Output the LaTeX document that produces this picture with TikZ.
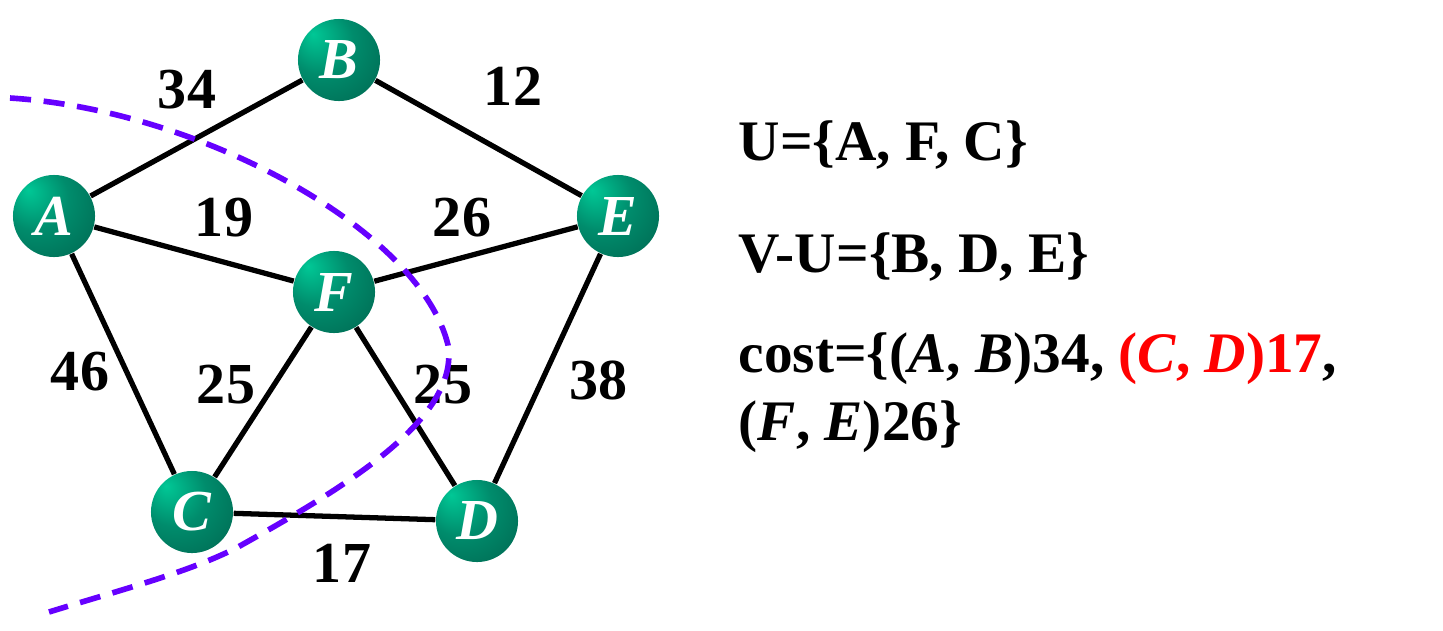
\documentclass[tikz,border=0pt]{standalone}
\usepackage{fontspec}
\setmainfont{Liberation Serif}
\usepackage{xcolor}
\usetikzlibrary{arrows.meta,calc}

\definecolor{ballhi}{RGB}{0,200,150}
\definecolor{ballmid}{RGB}{0,140,108}
\definecolor{balldk}{RGB}{0,92,72}
\definecolor{cutviolet}{RGB}{102,0,255}
\pgfdeclareradialshading{greenball}{\pgfpoint{-16bp}{16bp}}{%
  color(0bp)=(ballhi); color(20bp)=(ballmid); color(52bp)=(balldk); color(70bp)=(balldk)}

\tikzset{
  vtx/.style={circle,minimum size=0.82cm,inner sep=0pt,shading=greenball,
    text=white,font=\fontsize{16.5}{19}\selectfont\bfseries\itshape},
  wt/.style={font=\fontsize{16.5}{19}\selectfont\bfseries,inner sep=0pt},
  edge/.style={line width=1.5pt,black},
  setline/.style={anchor=base west,inner sep=0pt,font=\fontsize{16.3}{19}\selectfont\bfseries},
}

\begin{document}
\begin{tikzpicture}[x=0.01cm,y=-0.01cm]
  \useasboundingbox (0,0) rectangle (1443,630);
  % Vertices of the graph (pixel positions).
  \node[vtx] (A) at (54,216)  {A};
  \node[vtx] (B) at (339,60)  {B};
  \node[vtx] (E) at (618,216) {E};
  \node[vtx] (F) at (334,292) {F};
  \node[vtx] (C) at (192,512) {C};
  \node[vtx] (D) at (477,521) {D};

  \draw[edge] (A) -- (B);
  \draw[edge] (B) -- (E);
  \draw[edge] (A) -- (F);
  \draw[edge] (F) -- (E);
  \draw[edge] (A) -- (C);
  \draw[edge] (C) -- (F);
  \draw[edge] (F) -- (D);
  \draw[edge] (E) -- (D);
  \draw[edge] (C) -- (D);

  % Edge weights.
  \node[wt] (wAB) at (187,90)  {34};
  \node[wt] (wBE) at (513,86)  {12};
  \node[wt] (wAF) at (224,218) {19};
  \node[wt] (wFE) at (462,218) {26};
  \node[wt] (wAC) at (80,372)  {46};
  \node[wt] (wCF) at (226,385) {25};
  \node[wt] (wFD) at (443,385) {25};
  \node[wt] (wED) at (598,380) {38};
  \node[wt] (wCD) at (342,563) {17};

  % Cut between U and V-U.
  \coordinate (cutS) at (10,98);
  \coordinate (cutM) at (448,345);
  \coordinate (cutN) at (238,547);
  \coordinate (cutT) at (49,612);
  \draw[cutviolet,line width=1.6pt,dash pattern=on 6pt off 3.6pt]
    (cutS) .. controls (200,110) and (420,230) .. (cutM)
           .. controls (460,420) and (340,490) .. (cutN)
           .. controls (190,572) and (120,590) .. (cutT);

  \node[setline] (setU)  at (738,160) {U=\{A, F, C\}};
  \node[setline] (setVU) at (738,272) {V-U=\{B, D, E\}};
  \node[setline] (cost1) at (738,372)
    {cost=\{(\textit{A}, \textit{B})34, \textcolor{red}{(\textit{C}, \textit{D})17},};
  \node[setline] (cost2) at (738,440) {(\textit{F}, \textit{E})26\}};
\end{tikzpicture}
\end{document}
